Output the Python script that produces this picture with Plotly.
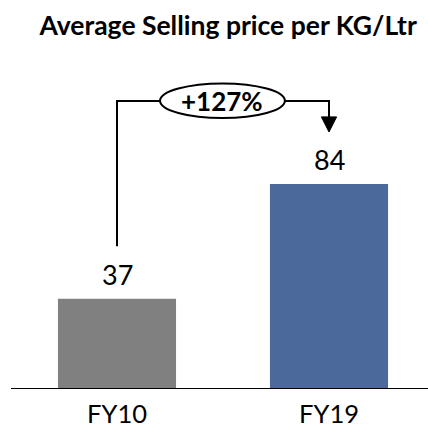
import plotly.graph_objects as go

# Data
categories = ["FY10", "FY19"]
prices = [37, 84]
bar_colors = ["#808080", "#4B6A9B"]

growth_pct = round((prices[1] / prices[0] - 1) * 100)
growth_text = f"+{growth_pct}%"

FONT = "Lato"
x_pos = [0, 1]

fig = go.Figure()
fig.add_trace(go.Bar(
    x=x_pos, y=prices, width=0.557,
    marker=dict(color=bar_colors, line=dict(width=0)),
    hoverinfo="skip",
))

# value labels above bars
for xi, v in zip(x_pos, prices):
    fig.add_annotation(x=xi, y=v, text=str(v), showarrow=False,
                       yanchor="bottom", yshift=6,
                       font=dict(family=FONT, size=27, color="#000000"))

# growth bracket: from the first label up, across, and down to the second
bracket_y = 118
line_style = dict(color="#000000", width=2)
left_bottom = prices[0] + 21.5
arrow_tip = prices[1] + 21.3
arrow_h = 6.2
arrow_half_w = 0.036
ell_x0, ell_x1 = 0.203, 0.792
ell_y0, ell_y1 = 111.0, 125.2

fig.add_shape(type="path", xref="x", yref="y",
              path=f"M {x_pos[0]},{left_bottom} L {x_pos[0]},{bracket_y} L {ell_x0},{bracket_y}",
              line=line_style)
fig.add_shape(type="path", xref="x", yref="y",
              path=f"M {ell_x1},{bracket_y} L {x_pos[1]},{bracket_y} L {x_pos[1]},{arrow_tip + arrow_h}",
              line=line_style)
fig.add_shape(type="path", xref="x", yref="y",
              path=(f"M {x_pos[1] - arrow_half_w},{arrow_tip + arrow_h} "
                    f"L {x_pos[1] + arrow_half_w},{arrow_tip + arrow_h} "
                    f"L {x_pos[1]},{arrow_tip} Z"),
              fillcolor="#000000", line=dict(color="#000000", width=1))
fig.add_shape(type="circle", xref="x", yref="y",
              x0=ell_x0, x1=ell_x1, y0=ell_y0, y1=ell_y1,
              fillcolor="#ffffff", line=line_style)
fig.add_annotation(x=(ell_x0 + ell_x1) / 2, y=(ell_y0 + ell_y1) / 2,
                   text=f"<b>{growth_text}</b>", showarrow=False,
                   yanchor="middle",
                   font=dict(family=FONT, size=26, color="#000000"))

fig.update_layout(
    width=428, height=430,
    margin=dict(l=11, r=0, t=40, b=41),
    paper_bgcolor="#ffffff", plot_bgcolor="#ffffff",
    showlegend=False,
    title=dict(text="<b>Average Selling price per KG/Ltr</b>",
               xref="container", yref="container",
               x=0.533, y=1 - 26 / 430, xanchor="center", yanchor="middle",
               font=dict(family=FONT, size=26.5, color="#000000")),
    xaxis=dict(range=[-0.5, 1.467], tickmode="array", tickvals=x_pos,
               ticktext=categories, showgrid=False, zeroline=False,
               showline=False, ticks="", ticklabelstandoff=7,
               automargin=False,
               tickfont=dict(family=FONT, size=25.5, color="#000000")),
    yaxis=dict(range=[0, 143], visible=False, showgrid=False, zeroline=False,
               automargin=False),
)
# baseline along the x axis
fig.add_shape(type="line", xref="paper", yref="y", x0=0, x1=1, y0=0, y1=0,
              line=dict(color="#000000", width=2))

fig.write_html("out.html")
